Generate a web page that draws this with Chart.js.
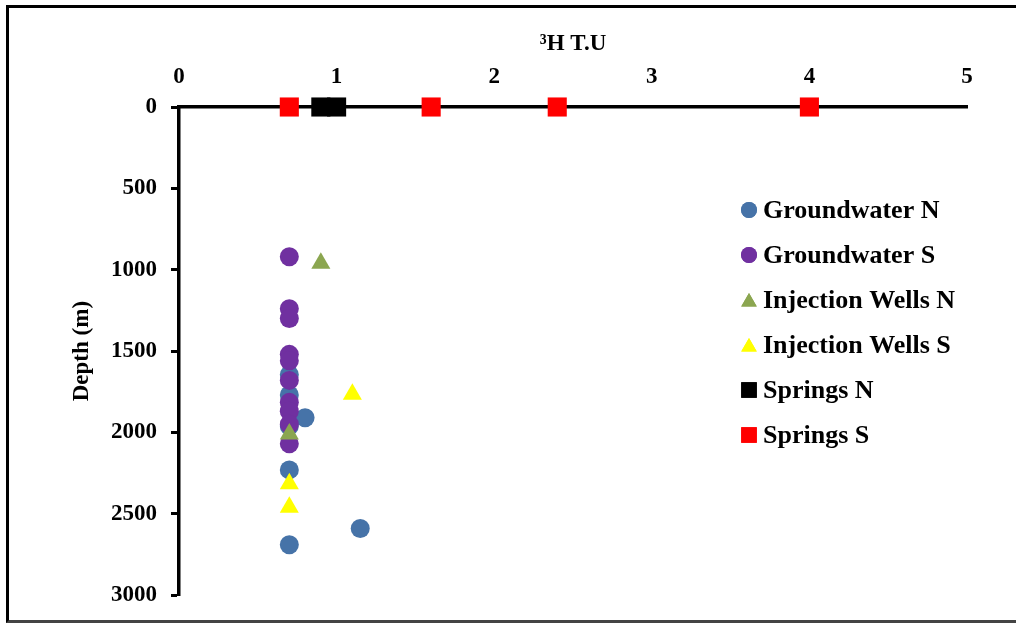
<!DOCTYPE html>
<html>
<head>
<meta charset="utf-8">
<title>Tritium vs depth</title>
<script src="https://cdn.jsdelivr.net/npm/chart.js@4.4.0/dist/chart.umd.min.js"></script>
<style>
  html, body { margin: 0; padding: 0; background: #fff; overflow: hidden; }
  #wrap { position: relative; width: 1016px; height: 623px; }
  #frame {
    position: absolute; left: 6px; top: 5px; width: 1040px; height: 612px;
    border: 3px solid #000; border-bottom-color: #444; pointer-events: none;
  }
  #myChart { position: absolute; left: 0; top: 0; }
</style>
</head>
<body>
<div id="wrap">
  <canvas id="myChart" width="1016" height="623"></canvas>
  <div id="frame"></div>
</div>
<script>
/* tritium (T.U) and sampling depth (m) for each group */
const gwNorthHTU   = [0.7, 0.7, 0.8, 0.7, 0.7, 1.15, 0.7];
const gwNorthDepth = [1645, 1770, 1910, 1960, 2230, 2590, 2690];

const gwSouthHTU   = [0.7, 0.7, 0.7, 0.7, 0.7, 0.7, 0.7, 0.7, 0.7, 0.7];
const gwSouthDepth = [920, 1240, 1300, 1520, 1560, 1680, 1815, 1870, 1950, 2070];

const injNorthHTU   = [0.9, 0.7];
const injNorthDepth = [960, 2010];

const injSouthHTU   = [1.1, 0.7, 0.7];
const injSouthDepth = [1765, 2315, 2460];

const springNorthHTU   = [0.9, 1.0];
const springNorthDepth = [0, 0];

const springSouthHTU   = [0.7, 1.6, 2.4, 4.0];
const springSouthDepth = [0, 0, 0, 0];

const xTicks = [0, 1, 2, 3, 4, 5];
const yTicks = [0, 500, 1000, 1500, 2000, 2500, 3000];

const serif = "'Liberation Serif', 'Times New Roman', serif";

function pts(xs, ys) {
  return xs.map((x, i) => ({ x: x, y: ys[i] }));
}

function series(label, xs, ys, color, style, radius, order) {
  return {
    label: label,
    data: pts(xs, ys),
    backgroundColor: color,
    borderColor: color,
    borderWidth: 0,
    pointStyle: style,
    pointRadius: radius,
    pointHoverRadius: radius,
    order: order,
    clip: false
  };
}

/* simple vertical legend drawn inside the plot, to the right */
const sideLegend = {
  id: 'sideLegend',
  afterDraw(chart, args, opts) {
    const ctx = chart.ctx;
    ctx.save();
    ctx.font = 'bold 26px ' + serif;
    ctx.textBaseline = 'middle';
    ctx.textAlign = 'left';
    chart.data.datasets.forEach((ds, i) => {
      const y = opts.y + i * opts.gap;
      ctx.fillStyle = ds.backgroundColor;
      const r = ds.pointStyle === 'rect' ? 11 : (ds.pointStyle === 'triangle' ? 9 : 8);
      Chart.helpers.drawPoint(ctx, { pointStyle: ds.pointStyle, radius: r, borderWidth: 0 },
        opts.x, ds.pointStyle === 'triangle' ? y + 2 : y);
      ctx.fill();
      ctx.fillStyle = '#000';
      ctx.fillText(ds.label, opts.x + 14, y + 1);
    });
    ctx.restore();
  }
};

const plainNumber = v => String(v);

let myChart = document.getElementById('myChart').getContext('2d');
let scatterChart = new Chart(myChart, {
  type: 'scatter',
  data: {
    datasets: [
      series('Groundwater N', gwNorthHTU, gwNorthDepth, '#4673A8', 'circle', 9.5, 6),
      series('Groundwater S', gwSouthHTU, gwSouthDepth, '#7030A0', 'circle', 9.5, 5),
      series('Injection Wells N', injNorthHTU, injNorthDepth, '#8BA650', 'triangle', 11, 4),
      series('Injection Wells S', injSouthHTU, injSouthDepth, '#FFFF00', 'triangle', 11, 3),
      series('Springs N', springNorthHTU, springNorthDepth, '#000000', 'rect', 13.5, 2),
      series('Springs S', springSouthHTU, springSouthDepth, '#FF0000', 'rect', 13.5, 1)
    ]
  },
  plugins: [sideLegend],
  options: {
    responsive: false,
    animation: false,
    layout: { padding: { left: 0, top: 0, right: 49, bottom: 25 } },
    plugins: {
      legend: { display: false },
      tooltip: { enabled: false },
      sideLegend: { x: 749, y: 210, gap: 45 }
    },
    scales: {
      x: {
        type: 'linear',
        position: 'top',
        min: 0,
        max: 5,
        afterFit(scale) { scale.height = 107; },
        afterBuildTicks(scale) { scale.ticks = xTicks.map(v => ({ value: v })); },
        grid: { display: false, drawTicks: true, tickLength: 13 },
        border: { display: true, color: '#000', width: 3.5 },
        ticks: {
          color: '#000',
          padding: 3,
          callback: plainNumber,
          font: { family: serif, size: 23, weight: 'bold' }
        },
        title: {
          display: true,
          text: '³H T.U',
          color: '#000',
          padding: { top: 30 },
          font: { family: serif, size: 23, weight: 'bold' }
        }
      },
      y: {
        type: 'linear',
        reverse: true,
        min: 0,
        max: 3000,
        afterFit(scale) { scale.width = 179; },
        afterBuildTicks(scale) { scale.ticks = yTicks.map(v => ({ value: v })); },
        grid: {
          display: true,
          drawOnChartArea: false,
          drawTicks: true,
          tickLength: 8,
          tickWidth: 3,
          tickColor: '#000'
        },
        border: { display: true, color: '#000', width: 3.5 },
        ticks: {
          color: '#000',
          padding: 14,
          callback: plainNumber,
          font: { family: serif, size: 23, weight: 'bold' }
        },
        title: {
          display: true,
          text: 'Depth (m)',
          color: '#000',
          padding: { top: 68 },
          font: { family: serif, size: 23, weight: 'bold' }
        }
      }
    }
  }
});
</script>
</body>
</html>
